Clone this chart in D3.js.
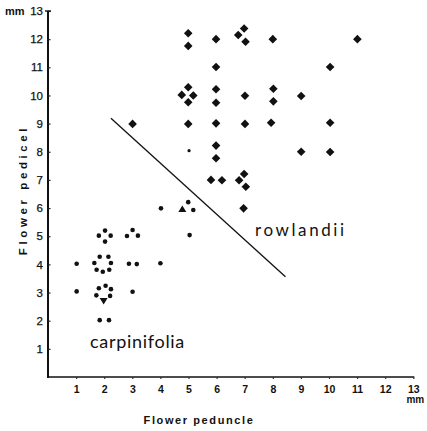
<!DOCTYPE html>
<html><head><meta charset="utf-8">
<script src="https://cdn.jsdelivr.net/npm/d3@7/dist/d3.min.js"></script>
<style>body{margin:0;background:#fff}svg{display:block}</style>
</head><body>
<svg id="c" width="427" height="431"></svg>
<script>
// rowlandii (diamonds): [peduncle mm, pedicel mm]
const rowlandii = [
 [3.01,8.99],[4.99,12.21],[4.99,11.76],[4.76,10.02],[5.17,10.0],[4.99,10.29],[4.99,9.76],[4.99,8.99],
 [5.98,12.0],[5.98,11.01],[5.98,10.22],[5.98,9.74],[5.98,9.01],[5.98,8.22],[5.98,7.77],[5.80,7.0],[6.19,6.99],
 [6.98,12.38],[6.77,12.15],[7.03,11.91],[7.01,9.99],[7.01,8.99],[6.98,7.21],[6.80,6.99],[7.04,6.76],[6.96,5.99],
 [8.0,12.0],[8.02,10.24],[8.02,9.79],[7.94,9.03],[9.01,9.98],[9.01,8.0],
 [10.04,11.01],[10.04,9.03],[10.04,7.99],[11.01,12.0]
];
// carpinifolia (dots)
const carpinifolia = [
 [2.03,5.20],[1.81,5.02],[2.23,5.02],[2.03,4.81],[3.01,5.22],[2.81,5.01],[3.20,5.02],
 [1.84,4.27],[2.15,4.27],[1.65,4.05],[2.24,4.05],[1.73,3.81],[1.95,3.74],[2.18,3.81],
 [1.02,4.02],[2.88,4.02],[3.16,4.01],[4.0,4.04],
 [1.02,3.04],[1.81,3.15],[2.05,3.24],[2.24,3.12],[1.72,2.90],[2.21,2.88],[3.01,3.03],
 [1.84,2.02],[2.17,2.02],[4.02,5.99],[4.99,6.21],[5.17,5.93],[5.04,5.04]
];
const smallDots = [[5.02,8.04]];
const trianglesDown = [[1.98,2.70]];
const trianglesUp = [[4.78,5.97]];
const divider = [[2.24,9.19],[8.45,3.56]];
const xTicks = [1,2,3,4,5,6,7,8,9,10,11,12,13];
const yTicks = [1,2,3,4,5,6,7,8,9,10,11,12,13];

const svg = d3.select("#c");
const x = d3.scaleLinear().domain([0,13]).range([48, 413.3]);
const y = d3.scaleLinear().domain([0,13]).range([377, 11]);

// axes
const gx = svg.append("g").attr("transform",`translate(0,${y(0)})`)
  .call(d3.axisBottom(x).tickValues(xTicks).tickSize(2).tickPadding(7).tickSizeOuter(0));
gx.select(".domain").attr("stroke","#111").attr("stroke-width",1.6).attr("d",`M${x(0)-1},0H${x(13)+1}`);
gx.selectAll(".tick line").attr("stroke","#333").attr("stroke-width",1.2);
gx.selectAll(".tick text").attr("font-family","Liberation Sans, Arial, sans-serif")
  .attr("font-size",10.5).attr("font-weight","bold").attr("fill","#111");

const gy = svg.append("g").attr("transform",`translate(${x(0)},0)`)
  .call(d3.axisRight(y).tickValues(yTicks).tickSize(2.5).tickSizeOuter(0).tickFormat(""));
gy.select(".domain").attr("stroke","#111").attr("stroke-width",2).attr("d",`M0,${y(0)+1}V${y(13)}`);
gy.selectAll(".tick line").attr("stroke","#222").attr("stroke-width",1.2);
// y tick labels on the left
svg.append("g").selectAll("text").data(yTicks).join("text")
  .attr("x",x(0)-5).attr("y",d=>y(d)).attr("dy","0.36em").attr("text-anchor","end")
  .attr("font-family","Liberation Sans, Arial, sans-serif").attr("font-size",11.5).attr("fill","#111")
  .attr("stroke","#111").attr("stroke-width",0.25)
  .text(d=>d);
// top crossbar
svg.append("line").attr("x1",x(0)-3).attr("x2",x(0)+3).attr("y1",y(13)).attr("y2",y(13))
  .attr("stroke","#111").attr("stroke-width",1.4);

// units
svg.append("text").attr("x",5).attr("y",y(13)+4).attr("font-family","Liberation Sans Narrow, Liberation Sans, sans-serif")
  .attr("font-size",11).attr("font-weight","bold").attr("fill","#111").text("mm");
svg.append("text").attr("x",x(13)+2).attr("y",y(0)+26).attr("text-anchor","middle")
  .attr("font-family","Liberation Sans Narrow, Liberation Sans, sans-serif")
  .attr("font-size",10).attr("font-weight","bold").attr("fill","#111").text("mm");

// axis titles
svg.append("text").attr("x",199).attr("y",424).attr("text-anchor","middle")
  .attr("font-family","Liberation Sans Narrow, Liberation Sans, sans-serif").attr("font-weight","bold")
  .attr("font-size",11).attr("letter-spacing",1.6).attr("fill","#111").text("Flower peduncle");
svg.append("text").attr("transform","translate(27,190) rotate(-90)").attr("text-anchor","middle")
  .attr("font-family","Liberation Sans Narrow, Liberation Sans, sans-serif").attr("font-weight","bold")
  .attr("font-size",11.5).attr("letter-spacing",3.6).attr("fill","#111").text("Flower pedicel");

// divider line
svg.append("path").datum(divider)
  .attr("d",d3.line().x(d=>x(d[0])).y(d=>y(d[1])))
  .attr("stroke","#111").attr("stroke-width",1.3).attr("fill","none");

// marks
svg.append("g").selectAll("path").data(rowlandii).join("path")
  .attr("transform",d=>`translate(${x(d[0])},${y(d[1])})`)
  .attr("d","M0,-4.3L4.3,0L0,4.3L-4.3,0Z").attr("fill","#111");
svg.append("g").selectAll("circle").data(carpinifolia).join("circle")
  .attr("cx",d=>x(d[0])).attr("cy",d=>y(d[1])).attr("r",2.3).attr("fill","#111");
svg.append("g").selectAll("circle").data(smallDots).join("circle")
  .attr("cx",d=>x(d[0])).attr("cy",d=>y(d[1])).attr("r",1.6).attr("fill","#111");
svg.append("g").selectAll("path").data(trianglesDown).join("path")
  .attr("transform",d=>`translate(${x(d[0])},${y(d[1])})`)
  .attr("d","M-4,-3L4,-3L0,3.5Z").attr("fill","#111");
svg.append("g").selectAll("path").data(trianglesUp).join("path")
  .attr("transform",d=>`translate(${x(d[0])},${y(d[1])})`)
  .attr("d","M-4,3L4,3L0,-3.5Z").attr("fill","#111");

// species labels
svg.append("text").attr("x",255).attr("y",236)
  .attr("font-family","Lato, Open Sans, sans-serif").attr("font-size",17).attr("letter-spacing",2.6)
  .attr("fill","#111").text("rowlandii");
svg.append("text").attr("x",90).attr("y",348)
  .attr("font-family","Lato, Open Sans, sans-serif").attr("font-size",18).attr("letter-spacing",0.7)
  .attr("fill","#111").text("carpinifolia");
</script>
</body></html>
